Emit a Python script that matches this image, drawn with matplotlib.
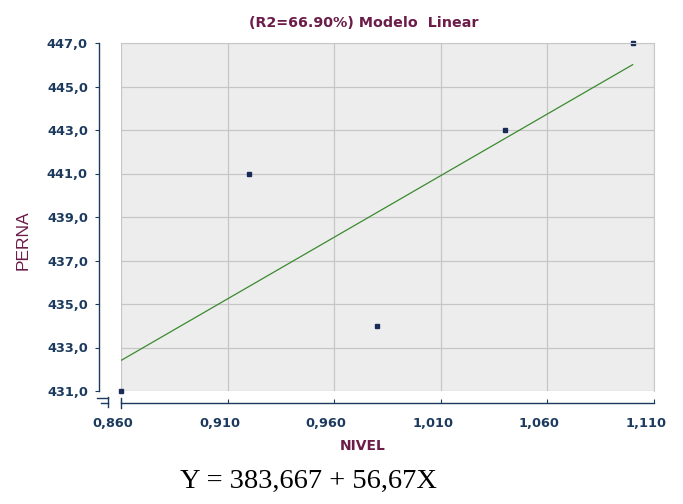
import numpy as np
import matplotlib
matplotlib.use("Agg")
import matplotlib.pyplot as plt
from matplotlib.lines import Line2D
from matplotlib.transforms import ScaledTranslation

# dados
nivel = [0.86, 0.92, 0.98, 1.04, 1.10]
perna = [431.0, 441.0, 434.0, 443.0, 447.0]
intercepto = 383.667
inclinacao = 56.67
r2 = 66.90

x_ticks = [0.860, 0.910, 0.960, 1.010, 1.060, 1.110]
y_ticks = [431.0, 433.0, 435.0, 437.0, 439.0, 441.0, 443.0, 445.0, 447.0]

W, H = 683, 504
navy = "#1b3a5e"
maroon = "#6b1c48"


def px(x, y):
    # pixel -> fracao da figura
    return x / W, 1 - y / H


fig = plt.figure(figsize=(W / 100, H / 100), dpi=100)
ax = fig.add_axes([121 / W, 1 - 391 / H, (654 - 121) / W, (391 - 43) / H])
ax.set_facecolor("#ededed")

ax.set_xlim(0.86, 1.11)
ax.set_ylim(431, 447)
ax.set_xticks(x_ticks)
ax.set_yticks(y_ticks)
ax.set_xticklabels([f"{v:.3f}".replace(".", ",") for v in x_ticks])
ax.set_yticklabels([f"{v:.1f}".replace(".", ",") for v in y_ticks])

ax.grid(True, color="#c6c6c6", linewidth=0.9)
ax.set_axisbelow(True)

# spines deslocadas como no original
ax.spines["left"].set_position(("outward", 22 * 0.72))
ax.spines["bottom"].set_position(("outward", 12 * 0.72))
ax.spines["left"].set_bounds(431, 447)
ax.spines["bottom"].set_bounds(0.86, 1.11)
for s in ["left", "bottom"]:
    ax.spines[s].set_color(navy)
    ax.spines[s].set_linewidth(1.0)
for s in ["top", "right"]:
    ax.spines[s].set_color("#c8c8c8")

ax.tick_params(axis="y", direction="out", length=3, color=navy, pad=5,
               labelsize=9.3, labelcolor=navy)
ax.tick_params(axis="x", direction="in", length=3, color=navy, pad=10,
               labelsize=9.3, labelcolor=navy)
shift = ScaledTranslation(-8 / 100, 0, fig.dpi_scale_trans)
for lab in ax.get_xticklabels():
    lab.set_transform(lab.get_transform() + shift)
for lab in ax.get_xticklabels() + ax.get_yticklabels():
    lab.set_fontweight("bold")
    lab.set_fontfamily("DejaVu Sans")

# reta ajustada
xs = np.array([min(nivel), max(nivel)])
ax.plot(xs, intercepto + inclinacao * xs, color="#3a8a2e", linewidth=0.9)
ax.plot(nivel, perna, "s", color="#1a2c55", markersize=2.2, clip_on=False)

# quebra de eixo
for (x0, y0), (x1, y1) in [((97, 398), (108, 398)), ((108, 397), (108, 407)),
                           ((101, 403), (108, 403)), ((121, 398), (121, 408))]:
    a, b = px(x0, y0)
    c, d = px(x1, y1)
    fig.add_artist(Line2D([a, c], [b, d], color=navy, linewidth=1.0))

fig.text(*px(364, 23), f"(R2={r2:.2f}%) Modelo  Linear", ha="center", va="center",
         fontsize=10.3, fontweight="bold", color=maroon, family="DejaVu Sans")
fig.text(*px(363, 446), "NIVEL", ha="center", va="center",
         fontsize=10, fontweight="bold", color=maroon, family="DejaVu Sans")
fig.text(*px(23, 240), "PERNA", ha="center", va="center", rotation=90,
         fontsize=12.5, color=maroon, family="Liberation Sans")
fig.text(*px(308, 481), f"Y = {intercepto:.3f} + {inclinacao:.2f}X".replace(".", ","),
         ha="center", va="center", fontsize=20.5, color="black", family="Liberation Serif")

fig.savefig("out.png", dpi=100)
